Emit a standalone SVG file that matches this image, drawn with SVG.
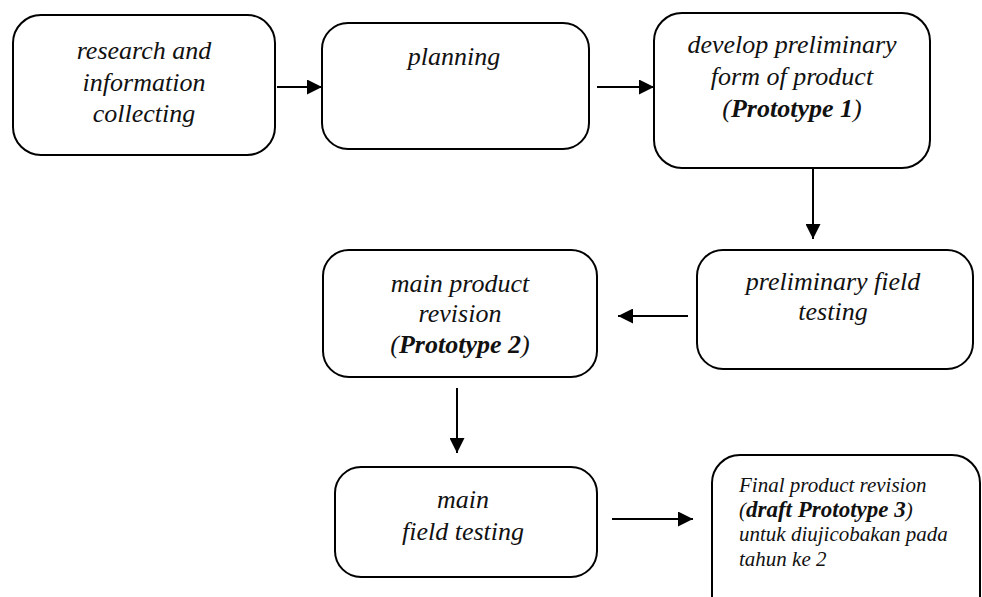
<svg xmlns="http://www.w3.org/2000/svg" width="982" height="597" viewBox="0 0 982 597">
<style>
.box{fill:#fff;stroke:#000;stroke-width:2}
.t{font-family:"Liberation Serif","Times New Roman",serif;font-style:italic;font-size:26px;fill:#111;text-anchor:middle}
.s{font-family:"Liberation Serif","Times New Roman",serif;font-style:italic;font-size:21px;fill:#111}
.b{font-weight:bold}
.c{stroke:#000;stroke-width:2;fill:none}
</style>
<defs>
<marker id="ah" markerWidth="8" markerHeight="8" refX="8" refY="4" orient="auto" markerUnits="userSpaceOnUse" viewBox="0 0 8 8">
<path d="M0,0 L8,4 L0,8 z" fill="#000"/>
</marker>
<marker id="ah2" markerWidth="15" markerHeight="15" refX="15" refY="7.5" orient="auto" markerUnits="userSpaceOnUse" viewBox="0 0 15 15">
<path d="M0,0 L15,7.5 L0,15 z" fill="#000"/>
</marker>
</defs>
<rect width="982" height="597" fill="#fff"/>
<g id="connectors">
<line class="c" x1="277" y1="87" x2="322" y2="87" marker-end="url(#ah2)"/>
<line class="c" x1="597" y1="87" x2="654" y2="87" marker-end="url(#ah2)"/>
<line class="c" x1="813" y1="140" x2="813" y2="239" marker-end="url(#ah2)"/>
<line class="c" x1="688" y1="316" x2="618" y2="316" marker-end="url(#ah2)"/>
<line class="c" x1="457" y1="388" x2="457" y2="453" marker-end="url(#ah2)"/>
<line class="c" x1="612" y1="519" x2="693" y2="519" marker-end="url(#ah2)"/>
</g>
<g id="n1">
<rect class="box" x="13" y="15" width="262" height="140" rx="28"/>
<text class="t" x="144" y="59">research and</text>
<text class="t" x="144" y="91">information</text>
<text class="t" x="144" y="122">collecting</text>
</g>
<g id="n2">
<rect class="box" x="322" y="23" width="267" height="126" rx="26"/>
<text class="t" x="454" y="65">planning</text>
</g>
<g id="n3">
<rect class="box" x="654" y="13" width="276" height="155" rx="28"/>
<text class="t" x="792" y="53">develop preliminary</text>
<text class="t" x="792" y="85">form of product</text>
<text class="t" x="792" y="117">(<tspan class="b">Prototype 1</tspan>)</text>
</g>
<g id="n4">
<rect class="box" x="697" y="250" width="276" height="119" rx="26"/>
<text class="t" x="833" y="290">preliminary field</text>
<text class="t" x="833" y="320">testing</text>
</g>
<g id="n5">
<rect class="box" x="323" y="250" width="274" height="127" rx="26"/>
<text class="t" x="460" y="292">main product</text>
<text class="t" x="460" y="322">revision</text>
<text class="t" x="460" y="353">(<tspan class="b">Prototype 2</tspan>)</text>
</g>
<g id="n6">
<rect class="box" x="335" y="467" width="262" height="110" rx="26"/>
<text class="t" x="463" y="508">main</text>
<text class="t" x="463" y="540">field testing</text>
</g>
<g id="n7">
<rect class="box" x="712" y="455" width="268" height="175" rx="28"/>
<text class="s" x="739" y="492">Final product revision</text>
<text class="s" x="739" y="517">(<tspan class="b" font-size="23">draft Prototype 3</tspan>)</text>
<text class="s" x="739" y="541">untuk diujicobakan pada</text>
<text class="s" x="739" y="566">tahun ke 2</text>
</g>
</svg>
